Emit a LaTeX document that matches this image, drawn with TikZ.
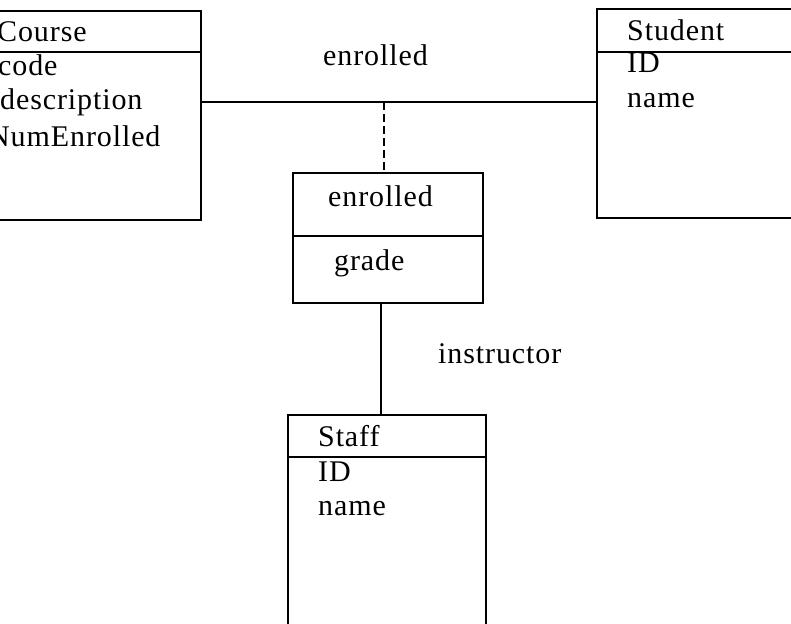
\documentclass[tikz,border=0pt]{standalone}
\usepackage{fontspec}
\setmainfont[LetterSpace=3]{Liberation Serif}
\begin{document}
\begin{tikzpicture}[x=1pt,y=-1pt,
  box/.style={draw,line width=1.6pt},
  conn/.style={draw,line width=1.6pt},
  dashconn/.style={draw,line width=1.6pt,dash pattern=on 8pt off 4pt},
  txt/.style={anchor=base west,inner sep=0pt,font=\fontsize{30}{35}\selectfont}]
\useasboundingbox (0,0) rectangle (791,623);
\clip (0,0) rectangle (791,623);
% Course
\draw[box] (-10,11) -- (201,11) -- (201,220) -- (-10,220);
\draw[box] (-10,52) -- (201,52);
\node[txt] (course) at (-3,42) {Course};
\node[txt] (ccode) at (-2,76) {code};
\node[txt] (cdesc) at (0,110) {description};
\node[txt] (cnum) at (-12,146) {NumEnrolled};
\coordinate (courseR) at (201,102);
% Student
\draw[box] (800,9) -- (597,9) -- (597,218) -- (800,218);
\draw[box] (597,52) -- (800,52);
\node[txt] (student) at (627,41) {Student};
\node[txt] (sid) at (627,73) {ID};
\node[txt] (sname) at (627,107) {name};
\coordinate (studentL) at (597,102);
% enrolled association class
\draw[box] (293,173) rectangle (483,303);
\draw[box] (293,236) -- (483,236);
\coordinate (enrTop) at (384,173);
\coordinate (enrBot) at (381,303);
\node[txt] (enrname) at (328,206) {enrolled};
\node[txt] (grade) at (334,270) {grade};
% Staff
\draw[box] (288,640) -- (288,415) -- (486,415) -- (486,640);
\draw[box] (288,457) -- (486,457);
\coordinate (staffTop) at (381,415);
\node[txt] (staff) at (318,446) {Staff};
\node[txt] (tid) at (318,481) {ID};
\node[txt] (tname) at (318,515) {name};
% connectors
\coordinate (mid) at (384,102);
\draw[conn] (courseR) -- (studentL);
\draw[dashconn] (mid) -- (enrTop);
\draw[conn] (enrBot) -- (staffTop);
% labels
\node[txt] (lblenr) at (323,66) {enrolled};
\node[txt] (lblins) at (438,363) {instructor};
\end{tikzpicture}
\end{document}
